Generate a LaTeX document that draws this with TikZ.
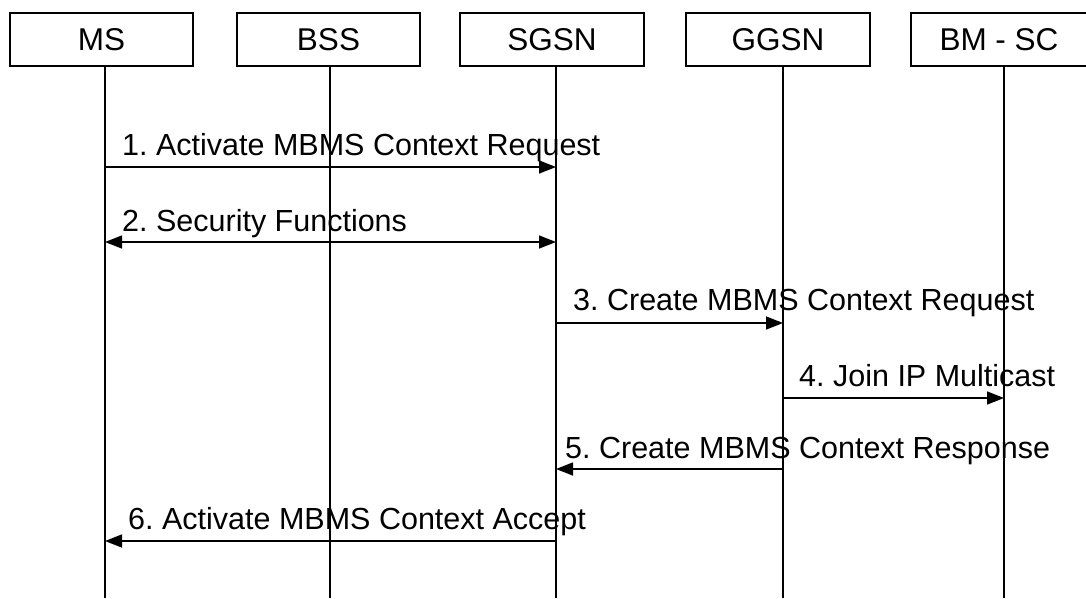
\documentclass[tikz,border=0pt]{standalone}
\usepackage{fontspec}
\setmainfont{Liberation Sans}
\usetikzlibrary{arrows.meta}
\tikzset{
  entity/.style={draw, line width=1.5pt, minimum height=53pt, inner sep=0pt,
    font=\fontsize{31.5}{36}\selectfont},
  lifeline/.style={line width=1.5pt},
  msg/.style={line width=1.5pt, -{Triangle[length=17pt,width=13pt]}},
  bimsg/.style={line width=1.5pt, {Triangle[length=17pt,width=13pt]}-{Triangle[length=17pt,width=13pt]}},
  msglabel/.style={anchor=base west, inner sep=0pt, font=\fontsize{30.5}{34}\selectfont}
}
\begin{document}
\frenchspacing
\begin{tikzpicture}[x=1pt,y=-1pt]
\useasboundingbox (0,0) rectangle (1086,598);
\fill[white] (0,0) rectangle (1086,598);

% network entities
\node[entity, minimum width=183pt] (ms)   at (101.5,39.5) {MS};
\node[entity, minimum width=183pt] (bss)  at (328.5,39.5) {BSS};
\node[entity, minimum width=184pt] (sgsn) at (552,39.5) {SGSN};
\node[entity, minimum width=184pt] (ggsn) at (778,39.5) {GGSN};
\node[entity, minimum width=176pt] (bmsc) at (999,39.5) {BM - SC};

% lifelines
\coordinate (msT) at (105,66);    \coordinate (msB) at (105,598);
\coordinate (bssT) at (330,66);   \coordinate (bssB) at (330,598);
\coordinate (sgsnT) at (556,66);  \coordinate (sgsnB) at (556,598);
\coordinate (ggsnT) at (783,66);  \coordinate (ggsnB) at (783,598);
\coordinate (bmscT) at (1004,66); \coordinate (bmscB) at (1004,598);
\foreach \e in {ms,bss,sgsn,ggsn,bmsc}
  \draw[lifeline] (\e T) -- (\e B);

% message end points on the lifelines
\coordinate (m1a) at (105,167); \coordinate (m1b) at (556,167);
\coordinate (m2a) at (105,242); \coordinate (m2b) at (556,242);
\coordinate (m3a) at (556,323); \coordinate (m3b) at (783,323);
\coordinate (m4a) at (783,398); \coordinate (m4b) at (1004,398);
\coordinate (m5a) at (783,469); \coordinate (m5b) at (556,469);
\coordinate (m6a) at (556,541); \coordinate (m6b) at (105,541);

% messages
\draw[msg]   (m1a) -- (m1b);
\draw[bimsg] (m2a) -- (m2b);
\draw[msg]   (m3a) -- (m3b);
\draw[msg]   (m4a) -- (m4b);
\draw[msg]   (m5a) -- (m5b);
\draw[msg]   (m6a) -- (m6b);

% message labels
\node[msglabel] (l1) at (122,155) {1. Activate MBMS Context Request};
\node[msglabel] (l2) at (122,231) {2. Security Functions};
\node[msglabel] (l3) at (573,310) {3. Create MBMS Context Request};
\node[msglabel] (l4) at (799,386) {4. Join IP Multicast};
\node[msglabel] (l5) at (565,458) {5. Create MBMS Context Response};
\node[msglabel] (l6) at (128,529) {6. Activate MBMS Context Accept};
\end{tikzpicture}
\end{document}
